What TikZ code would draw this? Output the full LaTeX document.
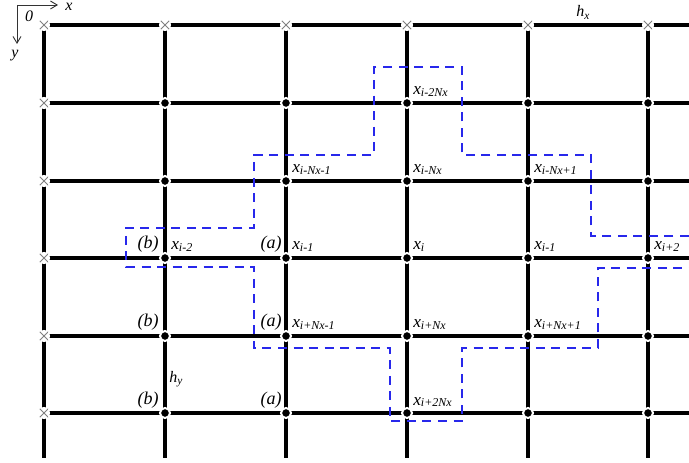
\documentclass[tikz,border=0pt]{standalone}
\usepackage{fontspec}
\setmainfont{Liberation Serif}
\usetikzlibrary{arrows.meta,backgrounds}
\newcommand{\xsub}[1]{{\fontsize{13}{13}\selectfont\itshape x}\raisebox{-1pt}{\fontsize{9}{9}\selectfont\itshape #1}}
\tikzset{
  gridline/.style={line width=2.4pt,black},
  grid pt/.style={circle,fill=black,draw=white,line width=1.5pt,inner sep=0pt,minimum size=7.5pt},
  edge pt/.style={circle,fill=white,inner sep=0pt,minimum size=9pt,
    path picture={\draw[gray,line width=0.6pt]
      (path picture bounding box.north west)--(path picture bounding box.south east)
      (path picture bounding box.south west)--(path picture bounding box.north east);}},
  xlab/.style={anchor=base west,inner sep=0pt},
  ab/.style={anchor=base east,inner sep=0pt,font=\fontsize{13.5}{13}\selectfont\itshape},
  region/.style={dash pattern=on 6.75pt off 4.9pt,line width=1pt,color={rgb,255:red,40;green,40;blue,235}},
  axis/.style={line width=0.7pt,black!80},
  axlab/.style={font=\fontsize{12}{12}\selectfont\itshape,inner sep=0pt},
}
\begin{document}
\begin{tikzpicture}[x=0.75pt,y=-0.75pt,>={Straight Barb[length=5pt,width=6pt]}]
  \useasboundingbox (0,0) rectangle (689,463);
  % grid points
  \foreach \c/\px in {0/44,1/165,2/286,3/407,4/528,5/648}
    \foreach \r/\py in {0/25,1/103,2/181,3/258,4/336,5/413}{
      \ifnum\c=0 \node[edge pt] (n\c\r) at (\px,\py) {};
      \else\ifnum\r=0 \node[edge pt] (n\c\r) at (\px,\py) {};
      \else \node[grid pt] (n\c\r) at (\px,\py) {};
      \fi\fi
    }
  \foreach \r/\py in {0/25,1/103,2/181,3/258,4/336,5/413}
    \coordinate (e\r) at (689,\py);
  \foreach \c/\px in {0/44,1/165,2/286,3/407,4/528,5/648}
    \coordinate (s\c) at (\px,458);
  \begin{scope}[on background layer]
    \foreach \r in {0,...,5} \draw[gridline] (n0\r.center) -- (e\r);
    \foreach \c in {0,...,5} \draw[gridline] (n\c0.center) -- (s\c);
  \end{scope}

  % stencil
  \draw[region] (689,236) -- (591,236) -- (591,155) -- (462,155) -- (462,67)
    -- (374,67) -- (374,155) -- (254,155) -- (254,228) -- (126,228)
    -- (126,267) -- (254,267) -- (254,348) -- (390,348) -- (390,421)
    -- (462,421) -- (462,348) -- (598,348) -- (598,268) -- (689,268);

  % labels
  \foreach \n/\t in {31/i-2Nx,22/i-Nx-1,32/i-Nx,42/i-Nx+1,13/i-2,23/i-1,33/i,43/i-1,53/i+2,24/i+Nx-1,34/i+Nx,44/i+Nx+1,35/i+2Nx}
    \node[xlab] (x\n) at ([shift={(6,-8)}]n\n.center) {\xsub{\t}};
  \foreach \n in {23,24,25} \node[ab] (a\n) at ([shift={(-4,-9)}]n\n.center) {(a)};
  \foreach \n in {13,14,15} \node[ab] (b\n) at ([shift={(-6,-9)}]n\n.center) {(b)};
  \node[xlab,font=\fontsize{12}{12}\selectfont\itshape] (hx) at (576,17) {h\raisebox{-2pt}{\fontsize{8.5}{8}\selectfont x}};
  \node[xlab,font=\fontsize{12}{12}\selectfont\itshape] (hy) at (169,382) {h\raisebox{-2pt}{\fontsize{8.5}{8}\selectfont y}};

  % axes
  \coordinate (o) at (17,5);
  \coordinate (ox) at (58,5);
  \coordinate (oy) at (17,44);
  \draw[axis,->] (o) -- (ox);
  \draw[axis,->] (o) -- (oy);
  \node[axlab] (lx) at (69,7) {x};
  \node[axlab] (ly) at (15,56) {y};
  \node[axlab] (l0) at (29,16) {0};
\end{tikzpicture}
\end{document}
